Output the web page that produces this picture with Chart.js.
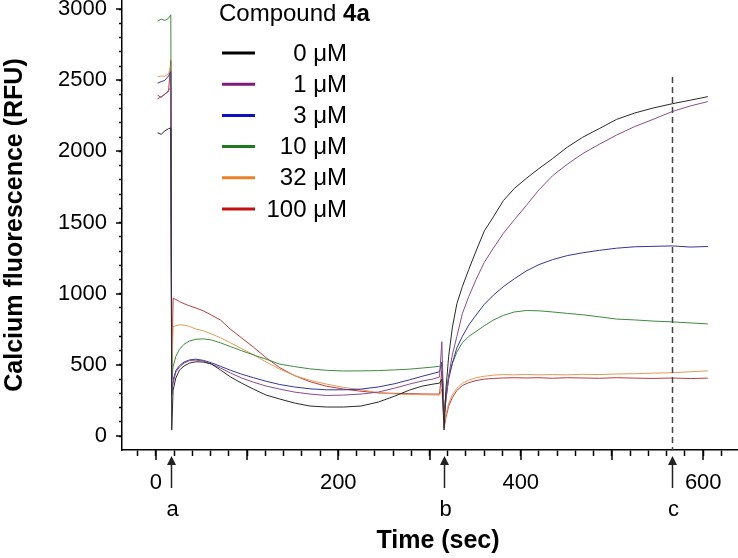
<!DOCTYPE html>
<html>
<head>
<meta charset="utf-8">
<script src="https://cdn.jsdelivr.net/npm/chart.js@4.4.1/dist/chart.umd.min.js"></script>
<style>
  html, body { margin: 0; padding: 0; background: #fff; }
  #wrap { width: 738px; height: 558px; }
</style>
</head>
<body>
<div id="wrap"><canvas id="calcium" width="738" height="558"></canvas></div>
<script>
// time points (sec) shared by every trace
const timeSec = [
  2, 6, 10, 14, 16.5, 17.5, 19, 22, 26, 31, 37, 44, 52, 61, 71, 82, 94, 107, 121, 136,
  152, 169, 187, 206, 225, 244, 262, 278, 292, 304, 311, 313.5, 316, 318, 321, 325, 330, 336, 343, 351,
  360, 370, 381, 393, 406, 420, 435, 451, 468, 486, 505, 525, 545, 566, 586, 605
];

const concLabels = ["0 \u03bcM", "1 \u03bcM", "3 \u03bcM", "10 \u03bcM", "32 \u03bcM", "100 \u03bcM"];
const concColors = ["#000000", "#7d1b7e", "#1010c0", "#1f7a1f", "#e8822a", "#c41010"];
const traceColors = ["#2a2a2a", "#8a4a8c", "#34349a", "#3f8a3f", "#e49a55", "#b83c3c"];

// RFU values, one array per concentration
const rfu0 = [
  2131, 2120, 2145, 2160, 2165, 42, 323, 408, 464, 492, 513, 522, 520, 506, 464, 415, 372, 330, 288, 260,
  232, 211, 204, 204, 211, 239, 281, 323, 351, 365, 372, 400, 42, 330, 560, 760, 930, 1050, 1170, 1300,
  1440, 1540, 1655, 1740, 1810, 1880, 1950, 2030, 2100, 2160, 2225, 2270, 2305, 2335, 2360, 2385
];
const rfu1 = [
  2370, 2385, 2400, 2430, 2450, 330, 372, 450, 485, 513, 530, 534, 527, 506, 478, 443, 408, 379, 351, 330,
  309, 295, 285, 288, 295, 309, 337, 365, 387, 401, 415, 663, 126, 250, 420, 570, 700, 860, 980, 1100,
  1220, 1320, 1425, 1520, 1620, 1730, 1830, 1910, 1985, 2050, 2115, 2175, 2225, 2280, 2320, 2350
];
const rfu3 = [
  2480, 2490, 2500, 2530, 2560, 288, 394, 460, 495, 520, 535, 540, 532, 515, 490, 462, 435, 410, 385, 362,
  345, 332, 325, 325, 330, 345, 368, 395, 420, 440, 452, 520, 140, 260, 400, 510, 620, 700, 780, 850,
  925, 990, 1050, 1105, 1160, 1205, 1240, 1268, 1288, 1305, 1320, 1330, 1333, 1336, 1328, 1332
];
const rfu10 = [
  2915, 2930, 2920, 2935, 2960, 400, 487, 560, 610, 645, 668, 680, 683, 675, 655, 628, 600, 570, 540, 505,
  488, 472, 462, 457, 458, 460, 465, 470, 478, 485, 490, 500, 169, 300, 420, 510, 590, 655, 700, 735,
  775, 815, 848, 872, 882, 880, 872, 862, 852, 838, 822, 816, 808, 802, 795, 788
];
const rfu32 = [
  2525, 2530, 2528, 2545, 2600, 394, 768, 775, 782, 780, 770, 752, 740, 718, 690, 655, 615, 572, 520, 470,
  425, 392, 365, 342, 325, 305, 296, 292, 290, 289, 288, 330, 77, 150, 230, 290, 335, 370, 393, 410,
  420, 428, 432, 430, 433, 430, 432, 430, 434, 432, 436, 438, 442, 445, 452, 458
];
const rfu100 = [
  2395, 2380, 2405, 2420, 2640, 400, 967, 960, 945, 930, 915, 900, 880, 850, 815, 750, 690, 625, 550, 480,
  425, 382, 350, 330, 315, 303, 300, 298, 296, 295, 295, 460, 56, 130, 210, 270, 320, 355, 375, 390,
  400, 405, 408, 410, 408, 410, 406, 410, 408, 406, 410, 407, 405, 408, 404, 407
];
const seriesValues = [rfu0, rfu1, rfu3, rfu10, rfu32, rfu100];

// axis ticks and additions
const xTickLabels = [0, 200, 400, 600];
const yTickLabels = [0, 500, 1000, 1500, 2000, 2500, 3000];
const eventTimes = [17, 316, 566];
const eventLabels = ["a", "b", "c"];
const dashedTime = 566;

const FONT = "'Liberation Sans', Arial, sans-serif";

const datasets = seriesValues.map((vals, i) => ({
  label: concLabels[i],
  data: timeSec.map((t, j) => ({ x: t, y: vals[j] })),
  borderColor: traceColors[i],
  borderWidth: 1,
  pointRadius: 0,
  showLine: true,
  tension: 0,
  fill: false,
}));

// longer major ticks, arrows a/b/c, dashed line, x title and legend
const annotations = {
  id: "annotations",
  afterDraw(chart) {
    const ctx = chart.ctx;
    const xs = chart.scales.x;
    const ys = chart.scales.y;
    const area = chart.chartArea;
    ctx.save();

    ctx.strokeStyle = "#000";
    ctx.lineWidth = 1.5;
    for (let v = 0; v <= 600; v += 100) {
      const px = Math.round(xs.getPixelForValue(v));
      ctx.beginPath();
      ctx.moveTo(px, area.bottom);
      ctx.lineTo(px, area.bottom + 10);
      ctx.stroke();
    }
    yTickLabels.forEach((v) => {
      const py = Math.round(ys.getPixelForValue(v));
      ctx.beginPath();
      ctx.moveTo(area.left, py);
      ctx.lineTo(area.left - 6, py);
      ctx.stroke();
    });

    // dashed line at c
    const dx = Math.round(xs.getPixelForValue(dashedTime)) + 0.5;
    ctx.strokeStyle = "#444";
    ctx.lineWidth = 1.5;
    ctx.setLineDash([6, 4]);
    ctx.beginPath();
    ctx.moveTo(dx, 77);
    ctx.lineTo(dx, area.bottom);
    ctx.stroke();
    ctx.setLineDash([]);

    // arrows
    ctx.fillStyle = "#222";
    ctx.strokeStyle = "#222";
    ctx.lineWidth = 1.5;
    ctx.font = "22px " + FONT;
    ctx.textAlign = "center";
    ctx.textBaseline = "middle";
    eventTimes.forEach((t, i) => {
      const px = Math.round(xs.getPixelForValue(t)) + 0.5;
      ctx.beginPath();
      ctx.moveTo(px, area.bottom + 12);
      ctx.lineTo(px, area.bottom + 38);
      ctx.stroke();
      ctx.beginPath();
      ctx.moveTo(px, area.bottom + 6);
      ctx.lineTo(px - 4.5, area.bottom + 15);
      ctx.lineTo(px + 4.5, area.bottom + 15);
      ctx.closePath();
      ctx.fill();
      ctx.fillStyle = "#000";
      ctx.fillText(eventLabels[i], px + 1, area.bottom + 60);
      ctx.fillStyle = "#222";
    });

    // x axis title
    ctx.fillStyle = "#000";
    ctx.font = "bold 25px " + FONT;
    ctx.fillText("Time (sec)", 438, 541);

    // legend
    ctx.textAlign = "left";
    ctx.textBaseline = "alphabetic";
    ctx.font = "24px " + FONT;
    ctx.fillText("Compound ", 219, 21);
    const w = ctx.measureText("Compound ").width;
    ctx.font = "bold 24px " + FONT;
    ctx.fillText("4a", 219 + w, 21);

    ctx.font = "24px " + FONT;
    ctx.textAlign = "right";
    ctx.textBaseline = "middle";
    chart.data.datasets.forEach((ds, i) => {
      const ly = 53 + i * 31.2;
      ctx.strokeStyle = concColors[i];
      ctx.lineWidth = 3;
      ctx.beginPath();
      ctx.moveTo(222, ly);
      ctx.lineTo(255, ly);
      ctx.stroke();
      ctx.fillStyle = "#000";
      ctx.fillText(ds.label, 347, ly + 1);
    });
    ctx.restore();
  },
};

new Chart(document.getElementById("calcium"), {
  type: "scatter",
  data: { datasets },
  options: {
    responsive: false,
    animation: false,
    layout: { padding: { left: 0, top: 0, right: 1, bottom: 0 } },
    plugins: { legend: { display: false }, tooltip: { enabled: false } },
    scales: {
      x: {
        type: "linear",
        min: -37,
        max: 637,
        afterBuildTicks: (scale) => {
          const ticks = [];
          for (let v = -20; v <= 620; v += 20) ticks.push({ value: v });
          scale.ticks = ticks;
        },
        afterFit: (scale) => {
          scale.height = 108;
          scale.paddingLeft = 0;
          scale.paddingRight = 0;
        },
        ticks: {
          autoSkip: false,
          maxRotation: 0,
          padding: 14,
          color: "#000",
          font: { size: 22, family: FONT },
          callback: (v) => (xTickLabels.includes(v) ? String(v) : ""),
        },
        grid: { drawOnChartArea: false, tickLength: 6, tickColor: "#000", tickWidth: 1.5 },
        border: { display: true, color: "#000", width: 1.5 },
      },
      y: {
        type: "linear",
        min: -98,
        max: 3064,
        afterBuildTicks: (scale) => {
          const ticks = [];
          for (let v = 0; v <= 3000; v += 100) ticks.push({ value: v });
          scale.ticks = ticks;
        },
        afterFit: (scale) => {
          scale.width = 122;
          scale.paddingTop = 0;
          scale.paddingBottom = 0;
        },
        ticks: {
          autoSkip: false,
          padding: 12,
          color: "#000",
          font: { size: 22, family: FONT },
          callback: (v) => (yTickLabels.includes(v) ? String(v) : ""),
        },
        grid: { drawOnChartArea: false, tickLength: 3, tickColor: "#000", tickWidth: 1.5 },
        border: { display: true, color: "#000", width: 1.5 },
        title: {
          display: true,
          text: "Calcium fluorescence (RFU)",
          color: "#000",
          font: { size: 25, weight: "bold", family: FONT },
          padding: { top: 0, bottom: 0 },
        },
      },
    },
  },
  plugins: [annotations],
});
</script>
</body>
</html>
